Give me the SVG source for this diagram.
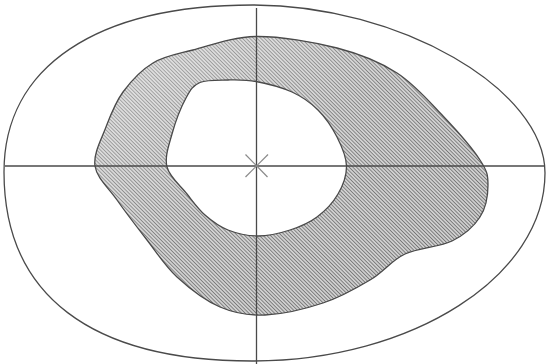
<svg xmlns="http://www.w3.org/2000/svg" width="547" height="364" viewBox="0 0 547 364">
  <defs>
    <pattern id="hatch" patternUnits="userSpaceOnUse" width="2.6" height="2.6" patternTransform="rotate(45)">
      <rect width="2.6" height="2.6" fill="#cccccc"/>
      <line x1="0" y1="1.3" x2="2.6" y2="1.3" stroke="#6e6e6e" stroke-width="0.9"/>
    </pattern>
    <linearGradient id="fade" x1="0" y1="0" x2="1" y2="1">
      <stop offset="0" stop-color="#fff" stop-opacity="0.45"/>
      <stop offset="0.45" stop-color="#fff" stop-opacity="0.12"/>
      <stop offset="1" stop-color="#fff" stop-opacity="0"/>
    </linearGradient>
    <path id="ringPath" d="M 256,36.5 C 280,36.17 313.5,41.92 337,48 C 360.5,54.08 379.33,61.67 397,73 C 414.67,84.33 429.17,101.5 443,116 C 456.83,130.5 472.5,148.5 480,160 C 487.5,171.5 488,175.5 488,185 C 488,194.5 486,207.67 480,217 C 474,226.33 464.5,234.83 452,241 C 439.5,247.17 418.67,247.5 405,254 C 391.33,260.5 383.67,271.83 370,280 C 356.33,288.17 340.5,297.17 323,303 C 305.5,308.83 282.17,314.33 265,315 C 247.83,315.67 234.67,313.33 220,307 C 205.33,300.67 189.17,288.17 177,277 C 164.83,265.83 157,252.83 147,240 C 137,227.17 125.67,212.33 117,200 C 108.33,187.67 96.83,178.17 95,166 C 93.17,153.83 101.33,139.33 106,127 C 110.67,114.67 115.17,102.67 123,92 C 130.83,81.33 141.33,70 153,63 C 164.67,56 175.83,54.42 193,50 C 210.17,45.58 232,36.83 256,36.5 Z M 256,81.5 C 266.67,83.5 281.67,87.25 292,92 C 302.33,96.75 310.5,102.5 318,110 C 325.5,117.5 332.25,127.67 337,137 C 341.75,146.33 346.33,156.5 346.5,166 C 346.67,175.5 342.92,185.5 338,194 C 333.08,202.5 325,211 317,217 C 309,223 299.83,226.83 290,230 C 280.17,233.17 268.33,236 258,236 C 247.67,236 236.83,233.5 228,230 C 219.17,226.5 211.83,221 205,215 C 198.17,209 193.33,202 187,194 C 180.67,186 169.5,177 167,167 C 164.5,157 168.83,145.5 172,134 C 175.17,122.5 181.33,106.58 186,98 C 190.67,89.42 193,85.5 200,82.5 C 207,79.5 218.67,80.17 228,80 C 237.33,79.83 245.33,79.5 256,81.5 Z"/>
    <style>
      .line { fill: none; stroke: #4a4a4a; stroke-width: 1.3; }
      .star { stroke: #8a8a8a; stroke-width: 1.2; }
    </style>
  </defs>
  <rect width="547" height="364" fill="#ffffff"/>
  <g id="outer-ellipse">
    <path class="line" d="M 4,172 C 4,67 96,5 253,5 C 399,5 545,89 545,173 C 545,276 413,361 252,361 C 91,361 4,295 4,172 Z"/>
  </g>
  <g id="ring">
    <use href="#ringPath" fill="url(#hatch)" fill-rule="evenodd"/>
    <use href="#ringPath" fill="url(#fade)" fill-rule="evenodd"/>
    <use href="#ringPath" class="line"/>
  </g>
  <g id="axes">
    <line class="line" x1="5" y1="166" x2="545" y2="166"/>
    <line class="line" x1="256.5" y1="8" x2="256.5" y2="364"/>
  </g>
  <g id="center">
    <line class="star" x1="245.5" y1="154.5" x2="267.5" y2="177"/>
    <line class="star" x1="268" y1="154.5" x2="245.5" y2="177"/>
  </g>
</svg>
